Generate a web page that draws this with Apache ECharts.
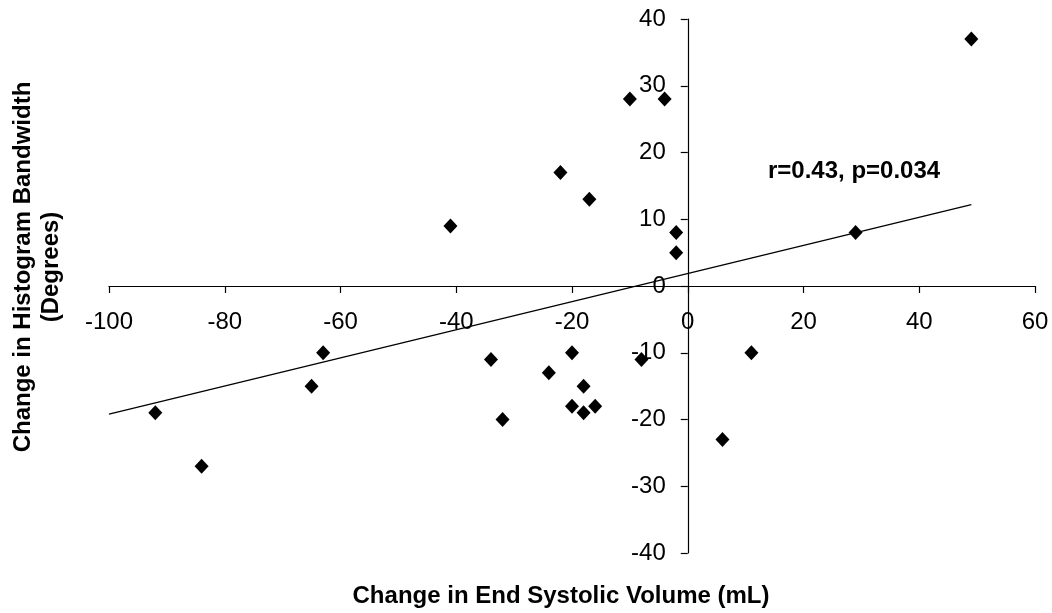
<!DOCTYPE html>
<html>
<head>
<meta charset="utf-8">
<script src="https://cdn.jsdelivr.net/npm/echarts@6/dist/echarts.min.js"></script>
<style>
html,body{margin:0;padding:0;background:#fff;}
#chart{width:1052px;height:613px;}
</style>
</head>
<body>
<div id="chart"></div>
<script>
// Change in End Systolic Volume (mL)
const esvChange = [-92, -84, -65, -63, -41, -34, -32, -24, -22, -20, -20, -18, -18, -17, -16, -10, -8, -4, -2, -2, 6, 11, 29, 49];
// Change in Histogram Bandwidth (Degrees)
const bandwidthChange = [-19, -27, -15, -10, 9, -11, -20, -13, 17, -10, -18, -15, -19, 13, -18, 28, -11, 28, 8, 5, -23, -10, 8, 37];
// Regression line end points
const trendX = [-100, 49];
const trendY = [-19.2, 12.2];
const xTicks = {min: -100, max: 60, interval: 20};
const yTicks = {min: -40, max: 40, interval: 10};
const statsLabel = 'r=0.43, p=0.034';
const xTitle = 'Change in End Systolic Volume (mL)';
const yTitleLines = ['Change in Histogram Bandwidth', '(Degrees)'];

const FONT = '"Liberation Sans", Arial, Helvetica, sans-serif';
const chart = echarts.init(document.getElementById('chart'), null, {renderer: 'canvas'});

const points = esvChange.map((x, i) => [x, bandwidthChange[i]]);
const trend = trendX.map((x, i) => [x, trendY[i]]);

const G = {left: 109, right: 17, top: 19, bottom: 60};
const W = 1052, H = 613;
const plotW = W - G.left - G.right, plotH = H - G.top - G.bottom;
// place axes where the other axis is zero (axes cross at origin)
const xAxisOffset = -plotH * (0 - yTicks.min) / (yTicks.max - yTicks.min);
const yAxisOffset = -plotW * (0 - xTicks.min) / (xTicks.max - xTicks.min);

chart.setOption({
  animation: false,
  backgroundColor: '#ffffff',
  grid: Object.assign({containLabel: false}, G),
  xAxis: {
    type: 'value', position: 'bottom', offset: xAxisOffset,
    min: xTicks.min, max: xTicks.max, interval: xTicks.interval,
    axisLine: {onZero: false, lineStyle: {color: '#000', width: 1.2}},
    axisTick: {show: true, length: 7, lineStyle: {color: '#000', width: 1.2}},
    axisLabel: {color: '#000', fontSize: 24, fontFamily: FONT, margin: 24, showMinLabel: true, showMaxLabel: true},
    splitLine: {show: false}
  },
  yAxis: {
    type: 'value', position: 'left', offset: yAxisOffset,
    min: yTicks.min, max: yTicks.max, interval: yTicks.interval,
    axisLine: {onZero: false, lineStyle: {color: '#000', width: 1.2}},
    axisTick: {show: true, length: 7, lineStyle: {color: '#000', width: 1.2}},
    axisLabel: {color: '#000', fontSize: 24, fontFamily: FONT, margin: 22, showMinLabel: true, showMaxLabel: true},
    splitLine: {show: false}
  },
  series: [
    {
      type: 'line',
      data: trend,
      symbol: 'none',
      lineStyle: {color: '#000', width: 1.3},
      silent: true,
      z: 1
    },
    {
      type: 'scatter',
      data: points,
      symbol: 'diamond',
      symbolSize: [14, 15],
      itemStyle: {color: '#000', opacity: 1},
      z: 3
    }
  ],
  graphic: [
    {
      type: 'text',
      left: 768, top: 159,
      style: {text: statsLabel, fill: '#000', font: 'bold 24px ' + FONT}
    },
    {
      type: 'text',
      x: 561, y: 596,
      style: {text: xTitle, fill: '#000', font: 'bold 24px ' + FONT, textAlign: 'center', textVerticalAlign: 'middle'}
    },
    {
      type: 'text',
      x: 23, y: 267, rotation: Math.PI / 2,
      style: {text: yTitleLines[0], fill: '#000', font: 'bold 24px ' + FONT, textAlign: 'center', textVerticalAlign: 'middle'}
    },
    {
      type: 'text',
      x: 51, y: 267, rotation: Math.PI / 2,
      style: {text: yTitleLines[1], fill: '#000', font: 'bold 24px ' + FONT, textAlign: 'center', textVerticalAlign: 'middle'}
    }
  ]
});
</script>
</body>
</html>
